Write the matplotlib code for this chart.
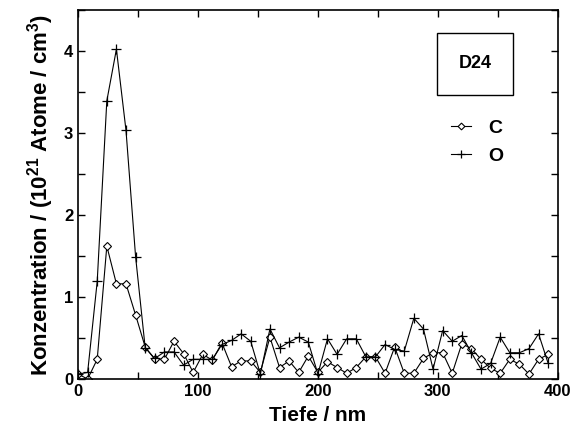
import matplotlib

matplotlib.use("Agg")
import matplotlib.pyplot as plt
from matplotlib.patches import Rectangle
from matplotlib.ticker import MultipleLocator
import numpy as np

plt.rcParams["font.family"] = ["Liberation Sans", "DejaVu Sans"]
plt.rcParams["mathtext.default"] = "regular"

# depth in nm, one point every 8 nm
tiefe = np.arange(50) * 8

conc_c = [0.06, 0.00, 0.24, 1.62, 1.16, 1.16, 0.78, 0.39, 0.24, 0.24,
          0.46, 0.31, 0.08, 0.30, 0.23, 0.44, 0.15, 0.22, 0.22, 0.08,
          0.51, 0.14, 0.22, 0.08, 0.28, 0.08, 0.21, 0.14, 0.07, 0.14,
          0.27, 0.27, 0.07, 0.39, 0.07, 0.07, 0.25, 0.32, 0.32, 0.07,
          0.43, 0.37, 0.24, 0.13, 0.07, 0.24, 0.18, 0.06, 0.24, 0.30]

conc_o = [0.06, 0.08, 1.19, 3.39, 4.02, 3.03, 1.49, 0.38, 0.25, 0.33,
          0.33, 0.17, 0.24, 0.24, 0.24, 0.42, 0.47, 0.55, 0.46, 0.06,
          0.61, 0.38, 0.45, 0.51, 0.45, 0.06, 0.49, 0.30, 0.49, 0.49,
          0.27, 0.27, 0.42, 0.36, 0.34, 0.74, 0.61, 0.12, 0.59, 0.46,
          0.53, 0.32, 0.12, 0.19, 0.51, 0.32, 0.32, 0.37, 0.55, 0.19]

fig = plt.figure(figsize=(5.78, 4.28), dpi=100)
ax = fig.add_axes([0.135, 0.1145, 0.83, 0.8625])

line_c, = ax.plot(tiefe, conc_c, color="black", lw=0.8, marker="D",
                  markersize=4.3, markerfacecolor="white", markeredgewidth=0.8,
                  label="C")
line_o, = ax.plot(tiefe, conc_o, color="black", lw=0.8, marker="+",
                  markersize=7, markeredgewidth=0.9, label="O")

ax.set_xlim(0, 400)
ax.set_ylim(0, 4.5)
ax.xaxis.set_major_locator(MultipleLocator(100))
ax.xaxis.set_minor_locator(MultipleLocator(50))
ax.yaxis.set_major_locator(MultipleLocator(1))
ax.yaxis.set_minor_locator(MultipleLocator(0.5))
ax.tick_params(which="both", direction="in", top=True, right=True,
               length=5, width=1)
ax.tick_params(labelsize=12)
for lab in ax.get_xticklabels() + ax.get_yticklabels():
    lab.set_fontweight("bold")
for sp in ax.spines.values():
    sp.set_linewidth(1.2)

ax.set_xlabel("Tiefe / nm", fontsize=15, fontweight="bold", labelpad=5)
ax.set_ylabel("Konzentration / (10$^{21}$ Atome / cm$^{3}$)", fontsize=16,
              fontweight="bold", labelpad=6)

# sample name box
ax.add_patch(Rectangle((0.748, 0.770), 0.158, 0.168, transform=ax.transAxes,
                       fill=False, lw=1, edgecolor="black"))
ax.text(0.827, 0.854, "D24", transform=ax.transAxes, ha="center",
        va="center", fontsize=13, fontweight="bold")

leg = ax.legend(handles=[line_c, line_o], loc="upper left",
                bbox_to_anchor=(0.74, 0.752), frameon=False,
                handlelength=1.05, handletextpad=0.9, labelspacing=0.55,
                markerscale=0.8, prop={"size": 14, "weight": "bold"})

fig.savefig("out.png", dpi=100)
